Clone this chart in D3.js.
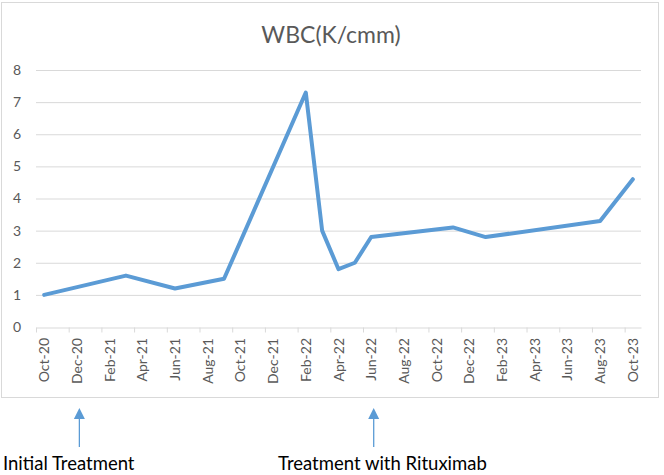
<!DOCTYPE html>
<html>
<head>
<meta charset="utf-8">
<script src="https://cdn.jsdelivr.net/npm/d3@7"></script>
<style>
  body { margin: 0; background: #fff; }
  text { font-family: Lato, "Noto Sans", sans-serif; }
</style>
</head>
<body>
<svg id="chart" width="664" height="475"></svg>
<script>
// readings
const months = ["Oct-20", "Mar-21", "Jun-21", "Sep-21", "Feb-22", "Mar-22", "Apr-22",
    "May-22", "Jun-22", "Nov-22", "Jan-23", "Aug-23", "Oct-23"]
const wbc = [1.0, 1.6, 1.2, 1.5, 7.3, 3.0, 1.8, 2.0, 2.8, 3.1, 2.8, 3.3, 4.6]

const tickLabels = ["Oct-20", "Dec-20", "Feb-21", "Apr-21", "Jun-21", "Aug-21", "Oct-21",
    "Dec-21", "Feb-22", "Apr-22", "Jun-22", "Aug-22", "Oct-22", "Dec-22", "Feb-23",
    "Apr-23", "Jun-23", "Aug-23", "Oct-23"]
const yTicks = [0, 1, 2, 3, 4, 5, 6, 7, 8]

const noteMonths = ["Dec-20", "Jun-22"]
const noteLabels = ["Initial Treatment", "Treatment with Rituximab"]

const title = "WBC(K/cmm)"

// layout
const plot = {left: 36, right: 641, top: 70, bottom: 327}
const noteTextX = [3, 278]
const blue = "#5b9bd5", grid = "#d9d9d9", grey = "#595959"

const mnames = ["Jan","Feb","Mar","Apr","May","Jun","Jul","Aug","Sep","Oct","Nov","Dec"]
const monthIndex = s => {
    const [m, y] = s.split("-")
    return (2000 + +y) * 12 + mnames.indexOf(m) - (2020 * 12 + 9)
}

const svg = d3.select("#chart")

// chart frame
svg.append("rect")
    .attr("x", 1.5).attr("y", 2.5)
    .attr("width", 657).attr("height", 395)
    .attr("fill", "#fff")
    .attr("stroke", grid)

const fx = d3.scaleLinear()
    .domain([0, 37])
    .range([plot.left, plot.right])
const fy = d3.scaleLinear()
    .domain([0, 8])
    .range([plot.bottom, plot.top])

// gridlines
svg.append("g")
    .selectAll("line")
    .data(yTicks.filter(d => d > 0))
    .join("line")
    .attr("x1", plot.left).attr("x2", plot.right)
    .attr("y1", d => fy(d) + 0.5).attr("y2", d => fy(d) + 0.5)
    .attr("stroke", grid)

// y axis labels
svg.append("g")
    .attr("transform", "translate(" + (plot.left - 15) + ",0)")
    .call(d3.axisLeft(fy).tickValues(yTicks).tickSize(0).tickFormat(d3.format("d")))
    .call(g => g.select(".domain").remove())
    .call(g => g.selectAll("text")
        .attr("x", 0)
        .attr("fill", grey)
        .style("font-size", "14px")
        .style("font-family", "Lato, sans-serif"))

// x axis: ticks every 2 months at month starts
const xTicks = d3.range(0, 38, 2)
svg.append("g")
    .attr("transform", "translate(0," + (plot.bottom + 0.5) + ")")
    .call(d3.axisBottom(fx).tickValues(xTicks).tickSize(5).tickSizeOuter(0).tickFormat(""))
    .call(g => g.select(".domain").attr("stroke", grid))
    .call(g => g.selectAll(".tick line").attr("stroke", grid))

// x labels centred on their month
svg.append("g")
    .selectAll("text")
    .data(tickLabels)
    .join("text")
    .attr("transform", d => "translate(" + fx(monthIndex(d) + 0.5) + "," + (plot.bottom + 11) + ") rotate(-90)")
    .attr("text-anchor", "end")
    .attr("dy", "0.36em")
    .attr("fill", grey)
    .style("font-size", "14px")
    .text(d => d)

// the series
const pts = months.map((m, i) => ({i: monthIndex(m) + 0.5, v: wbc[i]}))
const valueline = d3.line()
    .x(d => fx(d.i))
    .y(d => fy(d.v))

svg.append("path")
    .datum(pts)
    .attr("d", valueline)
    .attr("fill", "none")
    .attr("stroke", blue)
    .attr("stroke-width", 4)
    .attr("stroke-linejoin", "round")
    .attr("stroke-linecap", "round")

// title
svg.append("text")
    .attr("x", 331)
    .attr("y", 43)
    .attr("text-anchor", "middle")
    .attr("fill", grey)
    .style("font-size", "23px")
    .text(title)

// annotations below the chart
noteMonths.forEach((m, i) => {
    const ax = fx(monthIndex(m) + 0.5) + 2.5
    svg.append("line")
        .attr("x1", ax).attr("x2", ax)
        .attr("y1", 416).attr("y2", 447)
        .attr("stroke", blue)
        .attr("stroke-width", 1.3)
    svg.append("path")
        .attr("d", "M" + ax + ",408L" + (ax + 5.5) + ",419L" + (ax - 5.5) + ",419Z")
        .attr("fill", blue)
    svg.append("text")
        .attr("x", noteTextX[i])
        .attr("y", 470)
        .attr("fill", "#000")
        .style("font-size", "18.5px")
        .text(noteLabels[i])
})
</script>
</body>
</html>
